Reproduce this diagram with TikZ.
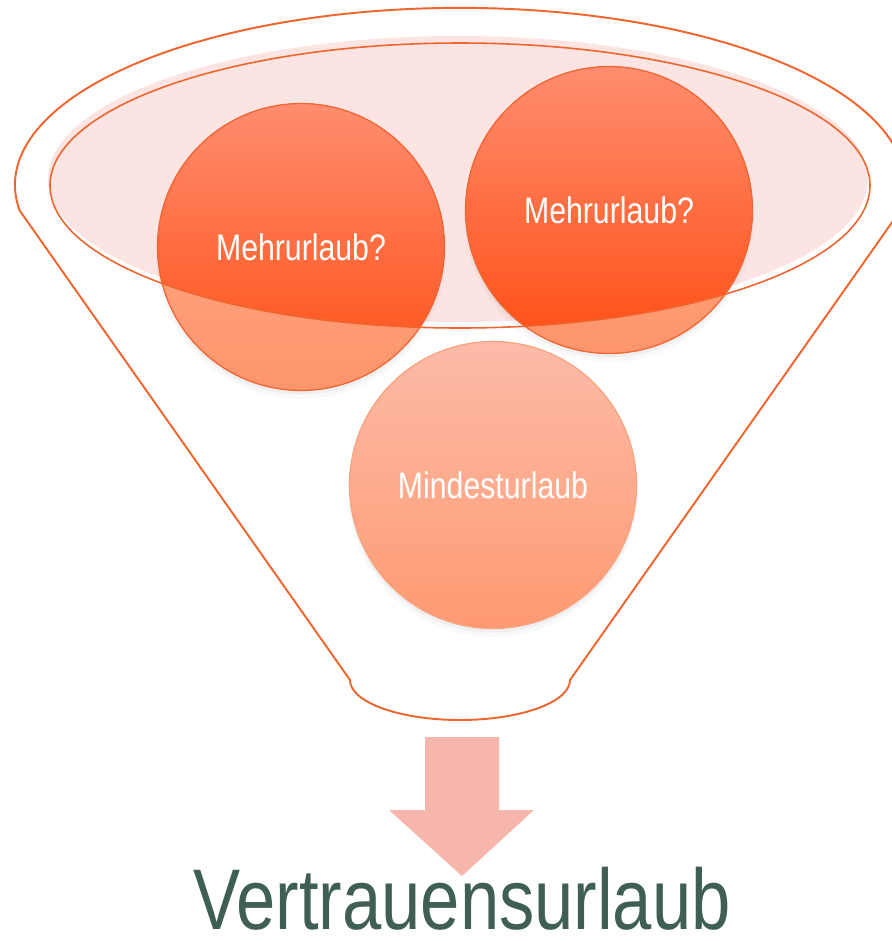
\documentclass[tikz,border=0pt]{standalone}
\usepackage{fontspec}
\usepackage{tikz}
\usetikzlibrary{positioning}
\newfontfamily\funnelfont[FakeStretch=0.82]{Liberation Sans}

\definecolor{funnelline}{HTML}{F0642D}
\definecolor{pinkfill}{HTML}{FBE4E1}
\definecolor{bubbleline}{HTML}{F26430}
\definecolor{lighttop}{HTML}{FFAD90}
\definecolor{lightbot}{HTML}{FE956B}
\definecolor{darktop}{HTML}{FF8D6F}
\definecolor{darkbot}{HTML}{FF4D12}
\definecolor{lowtop}{HTML}{FDBBA8}
\definecolor{lowbot}{HTML}{FE9A72}
\definecolor{lowline}{HTML}{F9A47F}
\definecolor{arrowpink}{HTML}{F7B6AB}
\definecolor{textgreen}{HTML}{3F5E56}

\pgfdeclarelayer{back}
\pgfsetlayers{back,main}

\tikzset{
  bubble/.style={circle, minimum size=5.74cm, inner sep=0pt, text=white,
    font=\funnelfont\fontsize{21}{25}\selectfont},
  funnel/.style={draw=funnelline, line width=1.1pt, line join=round},
}

\begin{document}
\begin{tikzpicture}[x=0.02cm, y=-0.02cm]
			\clip (0,0) rectangle (892,941);
			
			\node[bubble, draw=bubbleline, line width=0.7pt] (lefttop) at (301,247) {Mehrurlaub?};
			\node[bubble, draw=bubbleline, line width=0.7pt] (righttop) at (609,210) {Mehrurlaub?};
			\node[bubble, draw=lowline, line width=0.7pt] (bottom) at (493,485) {Mindesturlaub};
			
			\begin{pgfonlayer}{back}
				\fill[pinkfill] (458,179) ellipse [x radius=410, y radius=143];
				
				% soft shadows
				\foreach \c in {lefttop,righttop,bottom} {
					\fill[black, opacity=0.025] ([yshift=-4pt]\c.center) circle [radius=145];
					\fill[black, opacity=0.04] ([yshift=-2pt]\c.center) circle [radius=144];
				}
				
				\fill[top color=lighttop, bottom color=lightbot] (lefttop.center) circle [radius=143.5];
				\fill[top color=lighttop, bottom color=lightbot] (righttop.center) circle [radius=143.5];
				\fill[top color=lowtop, bottom color=lowbot] (bottom.center) circle [radius=143.5];
				
				\begin{scope}
					\clip (460,185.5) ellipse [x radius=410, y radius=142.5];
					\fill[top color=darktop, bottom color=darkbot] (lefttop.center) circle [radius=143.5];
					\fill[top color=darktop, bottom color=darkbot] (righttop.center) circle [radius=143.5];
				\end{scope}
			\end{pgfonlayer}
			
			\draw[funnelline, line width=0.9pt] (460,185.5) ellipse [x radius=410, y radius=142.5];
			
			\draw[funnel] (20,211) -- (350,680) arc [start angle=180, end angle=0, x radius=110, y radius=40]
				-- (900,211) arc [start angle=8.5, end angle=-188.5, x radius=445, y radius=177] -- cycle;
			
			\fill[arrowpink] (425,737) -- (499,737) -- (499,810) -- (534,810) -- (462,876)
				-- (389,810) -- (425,810) -- cycle;
			
			\node[anchor=base, inner sep=0pt, text=textgreen, font=\funnelfont\fontsize{49}{56}\selectfont]
				(result) at (462,929) {Vertrauensurlaub};
		\end{tikzpicture}
\end{document}
